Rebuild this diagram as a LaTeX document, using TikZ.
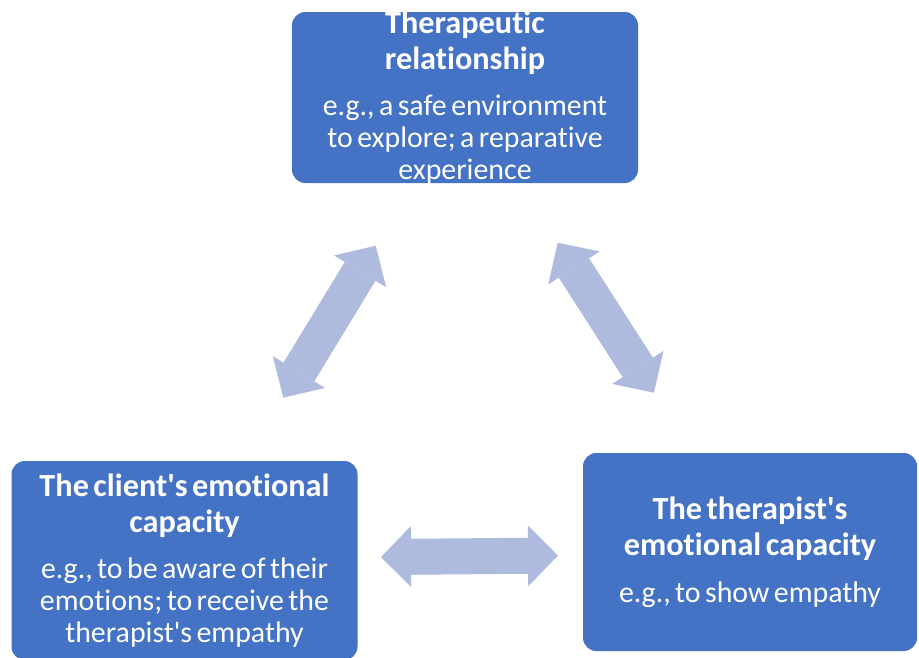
\documentclass[tikz,border=0pt]{standalone}
\usepackage{fontspec}
\setmainfont{Carlito}[Ligatures={NoCommon}]
\usetikzlibrary{arrows.meta}
\definecolor{boxblue}{RGB}{68,114,196}
\definecolor{arrowblue}{RGB}{175,187,222}
\newcommand\titlefont{\fontsize{24.2}{27}\selectfont\bfseries}
\newcommand\bodyfont{\fontsize{22.4}{24}\selectfont}
\tikzset{
  box/.style={fill=boxblue, rounded corners=10pt, inner sep=0pt},
  boxtext/.style={text=white, align=center, text width=250pt, inner sep=0pt},
  bighead/.tip={Triangle[length=22.5pt, width=45.75pt, line width=0pt]},
  link/.style={draw=arrowblue, line width=27pt, bighead-bighead}
}
\begin{document}
\begin{tikzpicture}[x=0.75pt, y=-0.75pt]
  \useasboundingbox (0,0) rectangle (919,657);
  \node[box, minimum width=259.5pt, minimum height=128.25pt] (rel) at (465,97.5) {};
  \node[box, minimum width=259.5pt, minimum height=149.25pt] (client) at (184.5,560.5) {};
  \node[box, minimum width=250.5pt, minimum height=148.5pt] (therapist) at (750,552) {};
  \node[boxtext] (reltext) at (rel.center)
    {{\titlefont Therapeutic\\relationship\par}\vspace{11pt}%
     {\bodyfont e.g., a safe environment\\to explore; a reparative\\experience\par}};
  \node[boxtext] (clienttext) at (client.center)
    {{\titlefont The client\textquotesingle s emotional\\capacity\par}\vspace{11pt}%
     {\bodyfont e.g., to be aware of their\\emotions; to receive the\\therapist\textquotesingle s empathy\par}};
  \node[boxtext] (therapisttext) at (therapist.center)
    {{\titlefont The therapist\textquotesingle s\\emotional capacity\par}\vspace{11pt}%
     {\bodyfont e.g., to show empathy\par}};
  \coordinate (a1) at (375.7,245.7);
  \coordinate (a2) at (283.3,397.7);
  \coordinate (b1) at (557.7,242.7);
  \coordinate (b2) at (654,392.7);
  \coordinate (c1) at (381,557);
  \coordinate (c2) at (558,555.5);
  \draw[link] (a1) -- (a2);
  \draw[link] (b1) -- (b2);
  \draw[link] (c1) -- (c2);
\end{tikzpicture}
\end{document}
